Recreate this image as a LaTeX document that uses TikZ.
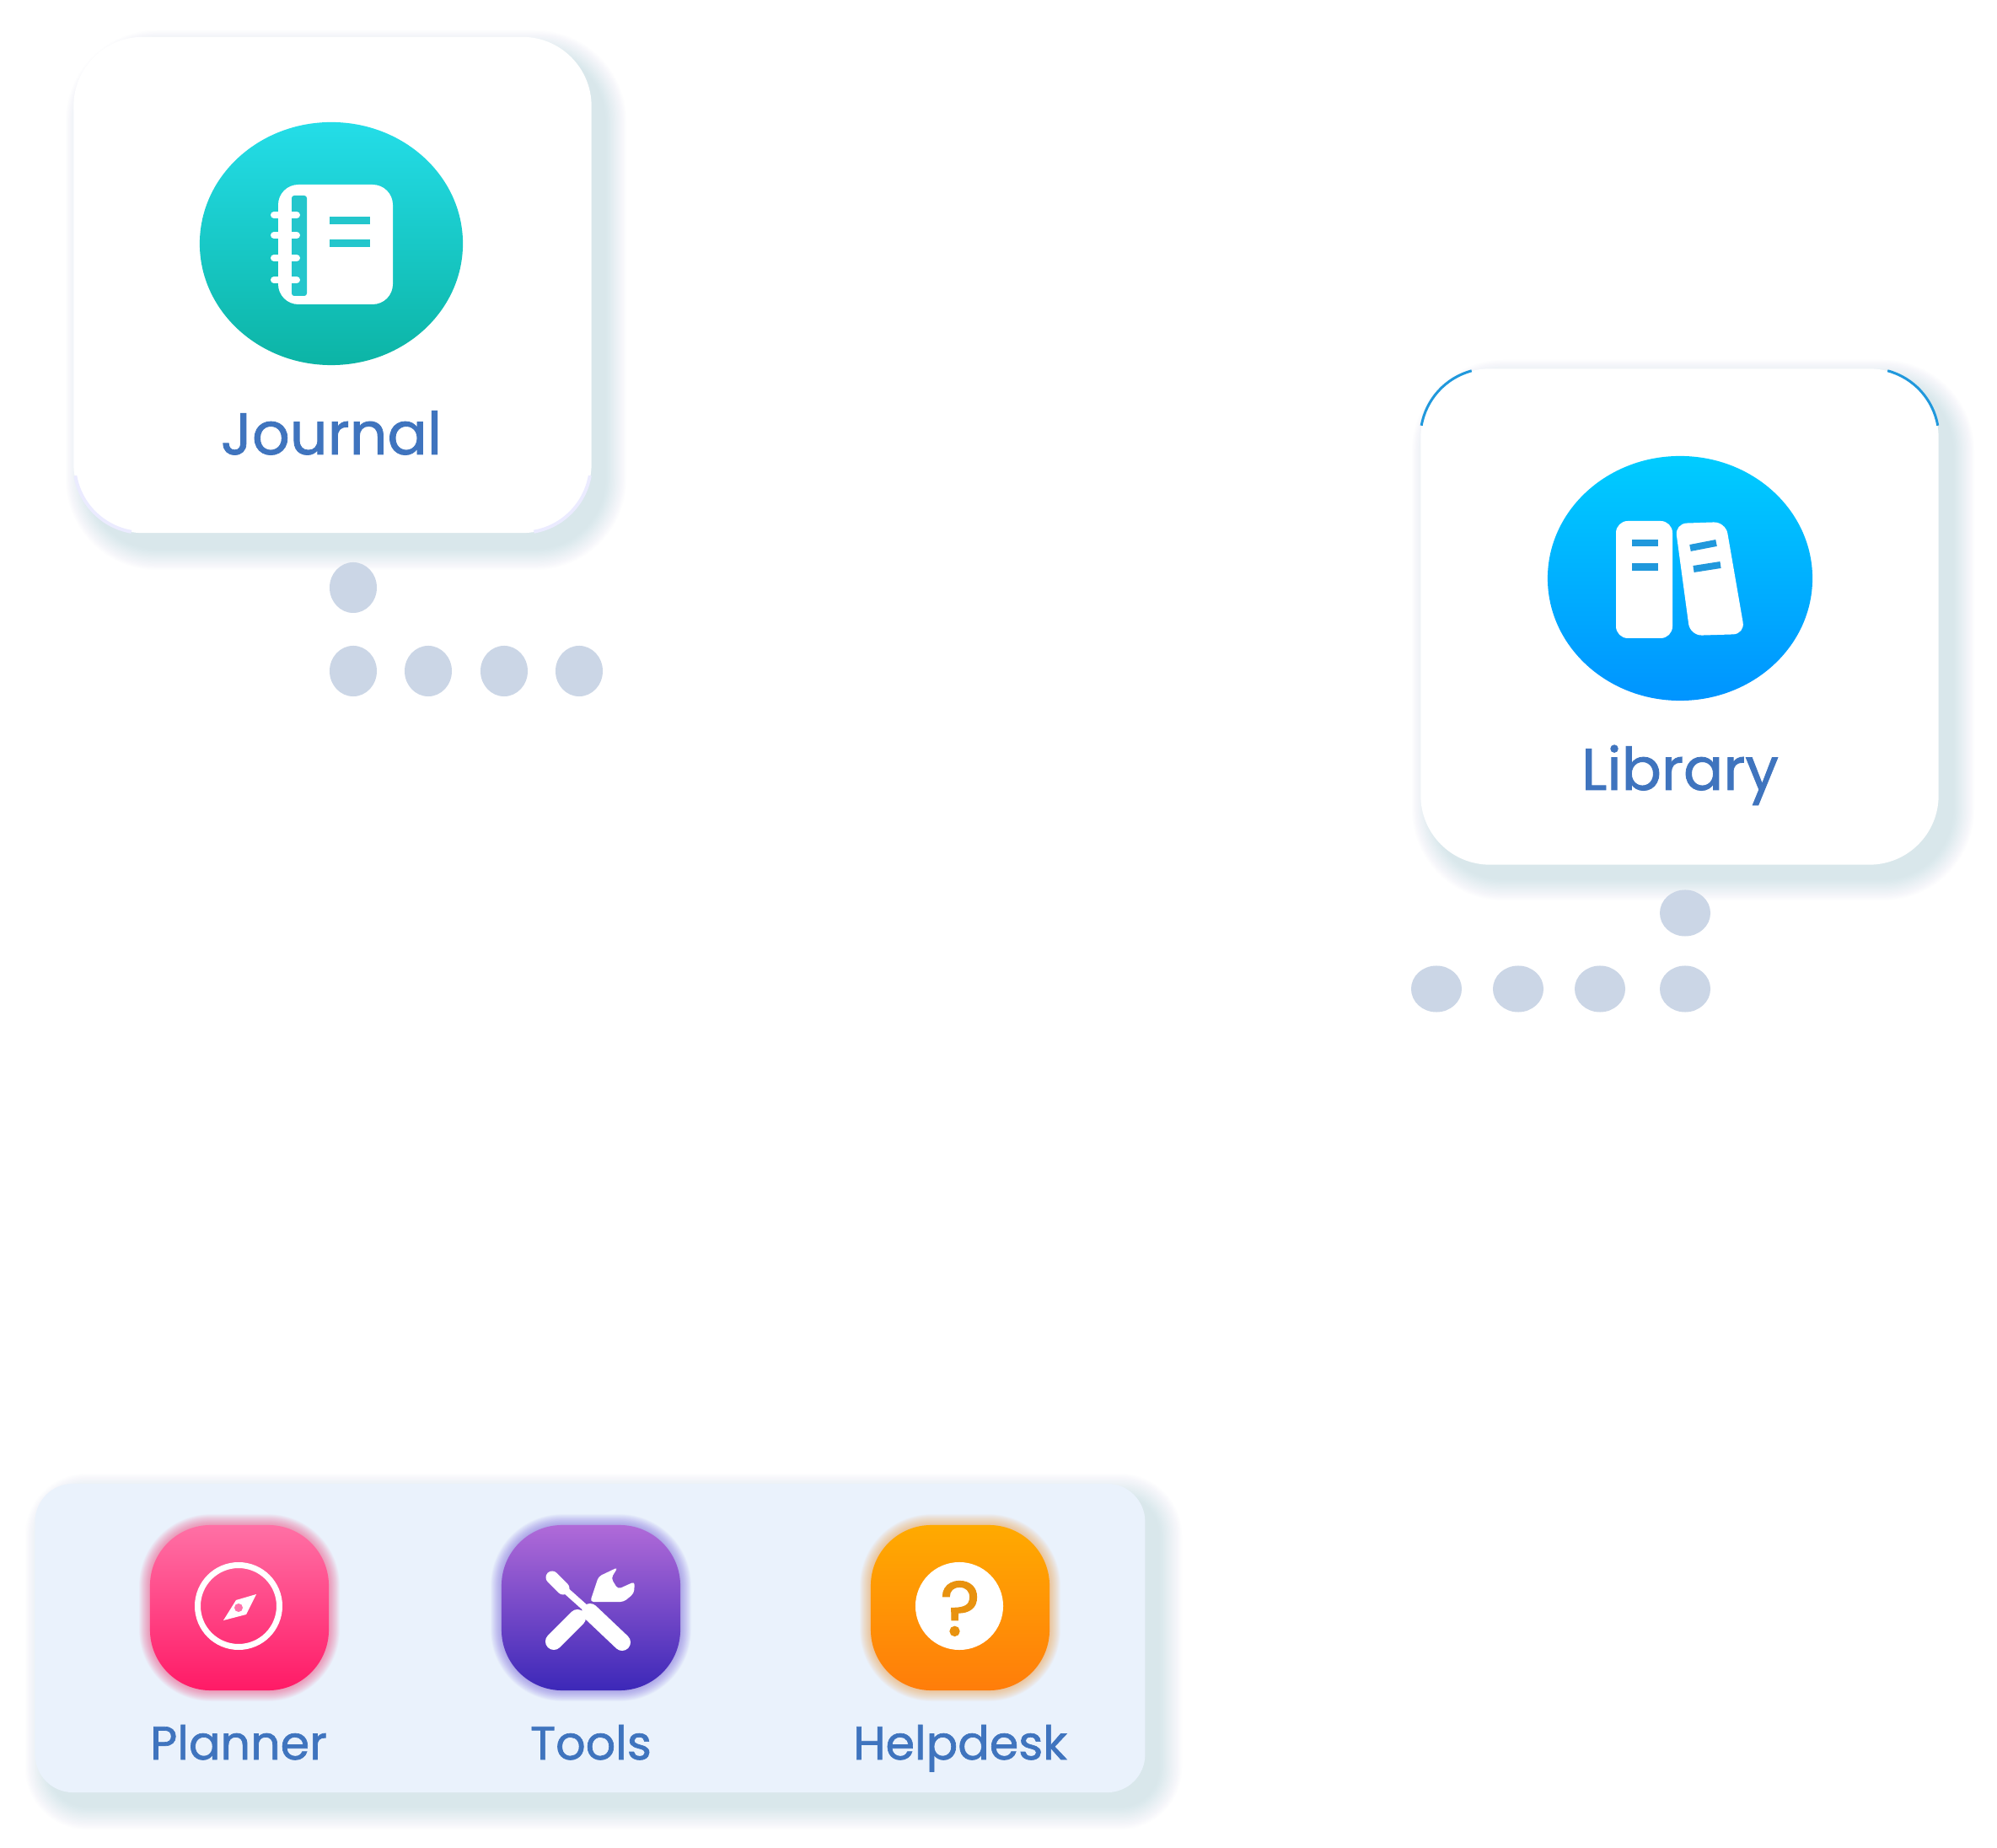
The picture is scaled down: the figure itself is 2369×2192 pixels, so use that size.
\documentclass[tikz,border=0pt]{standalone}
\usepackage{fontspec}
\setmainfont{Poppins}
\newfontfamily\labelfont[FakeBold=1.2]{Poppins}
\usetikzlibrary{shapes.geometric}
\definecolor{cardshade}{HTML}{9DB8C2}
\definecolor{dotblue}{HTML}{CBD6E6}
\definecolor{labelblue}{HTML}{3F74BE}
\definecolor{panelblue}{HTML}{EAF2FC}
\definecolor{bookteal}{HTML}{23C6CC}
\definecolor{bookblue}{HTML}{2098DC}
\newcommand{\softshadow}[7]{% box corners, corner radius, spread, colour
  \foreach \i in {1,...,20}
    \fill[opacity=0.016, #7, rounded corners={(#5+\i*#6/20)*0.01cm}]
      ({#1-\i*#6/20},{#2-\i*#6/20}) rectangle ({#3+\i*#6/20},{#4+\i*#6/20});
}
\tikzset{
  cardbox/.style={rectangle, fill=white, rounded corners=0.82cm, inner sep=0pt, outer sep=0pt,
    minimum width=6.14cm, minimum height=5.88cm},
  iconbox/.style={rectangle, rounded corners=0.72cm, inner sep=0pt, outer sep=0pt,
    minimum width=2.12cm, minimum height=1.96cm},
  discnode/.style={ellipse, inner sep=0pt, outer sep=0pt, minimum width=3.12cm, minimum height=2.88cm},
  cardlabel/.style={text=labelblue, font=\labelfont\fontsize{19.9}{24}\selectfont, inner sep=0pt, anchor=base},
  panellabel/.style={text=labelblue, font=\labelfont\fontsize{15.8}{18}\selectfont, inner sep=0pt, anchor=base},
  dotnode/.style={ellipse, fill=dotblue, inner sep=0pt, minimum width=0.56cm, minimum height=0.6cm},
  wdotnode/.style={ellipse, fill=dotblue, inner sep=0pt, minimum width=0.6cm, minimum height=0.55cm},
}
\begin{document}
\begin{tikzpicture}[x=0.01cm, y=-0.01cm]
  \useasboundingbox[fill=white] (0,0) rectangle (2369,2192);
  %
  % Journal card
  \softshadow{104}{62}{717}{650}{82}{26}{cardshade}
  \node[cardbox] (journalcard) at (394.5,338) {};
  \draw[blue!8, line width=0.04cm] (155.8,630.8) arc [start angle=100, end angle=170, radius=82];
  \draw[blue!8, line width=0.04cm] (699.8,564.2) arc [start angle=10, end angle=80, radius=82];
  \node[discnode, shade, top color={rgb,255:red,36;green,221;blue,232}, bottom color={rgb,255:red,12;green,180;blue,165}] (journaldisc) at (393,289) {};
  \fill[white, rounded corners=0.24cm] (330,219) rectangle (466,361);   % notebook
  \fill[bookteal, rounded corners=0.03cm] (346,232) rectangle (364,351);
  \foreach \y in {255,279,306,332}
    \draw[white, line width=0.08cm, line cap=round] (325,\y) -- (352,\y);
  \fill[bookteal] (391,257) rectangle (439,266);
  \fill[bookteal] (391,284) rectangle (439,293);
  \node[cardlabel] (journallabel) at (393,539) {Journal};
  %
  \node[dotnode] (jdot0) at (419,697) {};
  \foreach \x/\n in {419/1, 508/2, 598/3, 687/4}
    \node[dotnode] (jdot\n) at (\x,796) {};
  %
  % Library card
  \softshadow{1701}{453}{2316}{1042}{82}{26}{cardshade}
  \node[cardbox] (librarycard) at (1992.5,731.5) {};
  \draw[bookblue, line width=0.03cm] (1686.2,504.8) arc [start angle=190, end angle=255, radius=82];
  \draw[bookblue, line width=0.03cm] (2239.2,439.8) arc [start angle=285, end angle=350, radius=82];
  \node[discnode, shade, top color={rgb,255:red,0;green,204;blue,255}, bottom color={rgb,255:red,0;green,148;blue,255}, minimum width=3.14cm, minimum height=2.9cm] (librarydisc) at (1993,686) {};
  \fill[white, rounded corners=0.14cm] (1917,618) rectangle (1984,757);  % books
  \fill[white, rounded corners=0.14cm] (1987,621) -- (2047,619) -- (2070,752) -- (2005,754) -- cycle;
  \fill[bookblue] (1936,640) rectangle (1967,648);
  \fill[bookblue] (1936,668) rectangle (1967,677);
  \draw[bookblue, line width=0.08cm] (2005,650) -- (2036,644);
  \draw[bookblue, line width=0.08cm] (2009,675) -- (2041,670);
  \node[cardlabel] (librarylabel) at (1993,937) {Library};
  %
  \node[wdotnode] (ldot0) at (1999,1083) {};
  \foreach \x/\n in {1704/1, 1801/2, 1898/3, 1999/4}
    \node[wdotnode] (ldot\n) at (\x,1173) {};
  %
  % bottom panel
  \softshadow{58}{1776}{1374}{2142}{45}{28}{cardshade}
  \node[rectangle, fill=panelblue, rounded corners=0.45cm, inner sep=0pt, outer sep=0pt,
    minimum width=13.16cm, minimum height=3.66cm] (panel) at (700,1943) {};
  %
  % Planner
  \softshadow{178}{1809}{390}{2005}{72}{13}{opacity=0.03, red!70!magenta!70!white}
  \node[iconbox, shade, top color={rgb,255:red,255;green,112;blue,165}, bottom color={rgb,255:red,255;green,26;blue,102}] (plannericon) at (284,1907) {};
  \draw[white, line width=0.07cm] (283,1905) circle [radius=48.5];
  \fill[white] (304,1891) -- (280,1898) -- (265,1922) -- (292,1915) -- cycle;
  \fill[red!60!magenta!55!white] (283,1907) circle [radius=5];
  \node[panellabel] (plannerlabel) at (283,2087) {Planner};
  %
  % Tools
  \softshadow{595}{1809}{807}{2005}{72}{13}{opacity=0.03, blue!70!violet!60!white}
  \node[iconbox, shade, top color={rgb,255:red,176;green,106;blue,216}, bottom color={rgb,255:red,60;green,40;blue,184}] (toolsicon) at (701,1907) {};
  \draw[white, line width=0.2cm, line cap=round] (657,1947) -- (685,1919);   % wrench
  \fill[white, rounded corners=0.04cm] (700,1900) -- (710,1870) -- (733,1859) -- (725,1872) -- (733,1885) -- (753,1876) -- (752,1890) -- (740,1900) -- cycle;
  \draw[white, line width=0.15cm, line cap=round] (655,1871) -- (668,1884);  % screwdriver
  \draw[white, line width=0.08cm] (665,1881) -- (702,1914);
  \draw[white, line width=0.2cm, line cap=round] (700,1912) -- (738,1948);
  \node[panellabel] (toolslabel) at (701,2087) {Tools};
  %
  % Helpdesk
  \softshadow{1033}{1809}{1245}{2005}{72}{13}{opacity=0.03, orange!70!white}
  \node[iconbox, shade, top color={rgb,255:red,255;green,170;blue,0}, bottom color={rgb,255:red,255;green,125;blue,10}] (helpicon) at (1139,1907) {};
  \node[ellipse, fill=white, inner sep=0pt, minimum width=1.04cm, minimum height=1.04cm] (helpdisc) at (1138,1905) {};
  \node[text={rgb,255:red,232;green,146;blue,15}, font=\labelfont\fontsize{26}{28}\selectfont, inner sep=0pt, anchor=base] (helpmark) at (1139,1940) {?};
  \node[panellabel] (helplabel) at (1139,2087) {Helpdesk};
  %
\end{tikzpicture}
\end{document}
